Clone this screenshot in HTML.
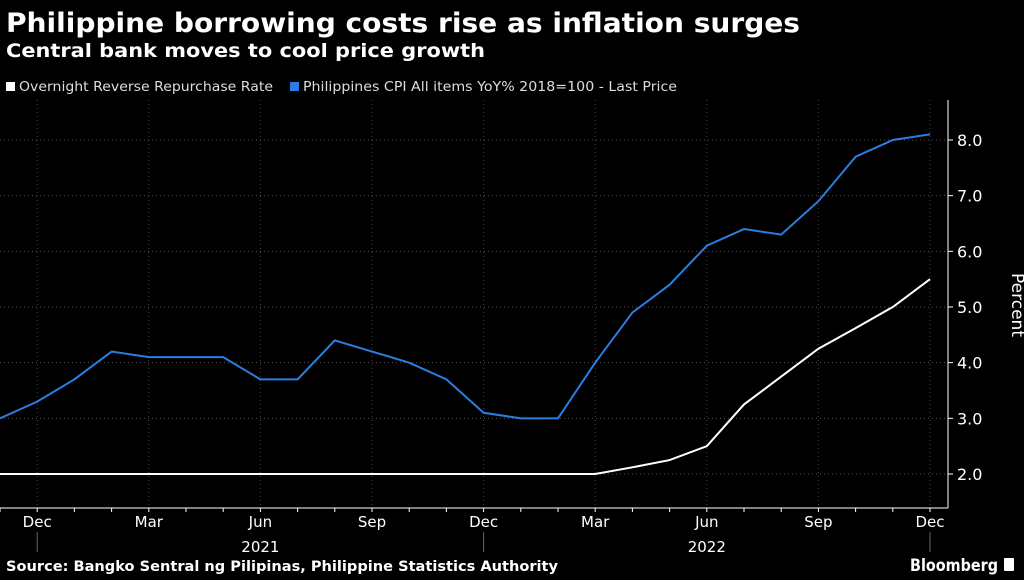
<!DOCTYPE html>
<html><head><meta charset="utf-8"><style>
body{margin:0;background:#000;width:1024px;height:576px;overflow:hidden;font-family:"DejaVu Sans","Liberation Sans",sans-serif;}
</style></head><body>
<svg width="1024" height="576" xmlns="http://www.w3.org/2000/svg">
<text x="6" y="32" fill="#fff" font-size="27" font-weight="bold" textLength="794" lengthAdjust="spacingAndGlyphs">Philippine borrowing costs rise as inflation surges</text>
<text x="6" y="57" fill="#fff" font-size="19" font-weight="bold" textLength="479" lengthAdjust="spacingAndGlyphs">Central bank moves to cool price growth</text>
<g>
<rect x="6" y="82" width="9" height="9" fill="#fff"/>
<text x="19" y="91" fill="#ddd" font-size="13" textLength="254" lengthAdjust="spacingAndGlyphs">Overnight Reverse Repurchase Rate</text>
<rect x="290" y="82" width="9" height="9" fill="#2a7de1"/>
<text x="303" y="91" fill="#ddd" font-size="13" textLength="374" lengthAdjust="spacingAndGlyphs">Philippines CPI All items YoY% 2018=100 - Last Price</text>
</g>
<g id="grid"></g><g id="axes"></g><g id="series"></g>
<text x="1012" y="305" fill="#fff" font-size="17" transform="rotate(90 1012 305)" text-anchor="middle">Percent</text>
<text x="6" y="571" fill="#fff" font-size="14" font-weight="bold" textLength="552" lengthAdjust="spacingAndGlyphs">Source: Bangko Sentral ng Pilipinas, Philippine Statistics Authority</text>
<text x="998" y="571" fill="#fff" font-size="17" font-weight="bold" text-anchor="end" textLength="88" lengthAdjust="spacingAndGlyphs">Bloomberg</text>
<rect x="1004" y="558" width="10" height="13" fill="#fff" rx="1"/>
</svg>
<script>
const months=["Nov","Dec","Jan","Feb","Mar","Apr","May","Jun","Jul","Aug","Sep","Oct","Nov","Dec","Jan","Feb","Mar","Apr","May","Jun","Jul","Aug","Sep","Oct","Nov","Dec"];
const cpi=[3.0,3.3,3.7,4.2,4.1,4.1,4.1,3.7,3.7,4.4,4.2,4.0,3.7,3.1,3.0,3.0,4.0,4.9,5.4,6.1,6.4,6.3,6.9,7.7,8.0,8.1];
const rate=[2,2,2,2,2,2,2,2,2,2,2,2,2,2,2,2,2,2.12,2.25,2.5,3.25,3.75,4.25,4.62,5.0,5.5];
const yTicks=[2,3,4,5,6,7,8];
const xLabels=[[1,"Dec"],[4,"Mar"],[7,"Jun"],[10,"Sep"],[13,"Dec"],[16,"Mar"],[19,"Jun"],[22,"Sep"],[25,"Dec"]];
const years=[[7,"2021"],[19,"2022"]];
const X=i=>i*37.2, Y=v=>474-(v-2)*55.67;
const NS="http://www.w3.org/2000/svg";
function mk(p,t,a){const e=document.createElementNS(NS,t);for(const k in a)e.setAttribute(k,a[k]);document.getElementById(p).appendChild(e);return e;}
yTicks.forEach(v=>{
 const l=mk("grid","line",{x1:0,x2:948,y1:Y(v),y2:Y(v),stroke:"#555","stroke-dasharray":"1 3"});
 
 
 mk("axes","line",{x1:948,x2:953,y1:Y(v),y2:Y(v),stroke:"#fff"});
 const t=mk("axes","text",{x:957,y:Y(v)+6,fill:"#fff","font-size":"16"});t.textContent=v.toFixed(1);
 
 
});
mk("axes","line",{x1:948,x2:948,y1:100,y2:508,stroke:"#fff"});
mk("axes","line",{x1:0,x2:948,y1:508,y2:508,stroke:"#fff"});
months.forEach((m,i)=>mk("axes","line",{x1:X(i),x2:X(i),y1:508,y2:512,stroke:"#fff"}));
xLabels.forEach(([i,s])=>{
 const g=mk("grid","line",{x1:X(i),x2:X(i),y1:100,y2:508,stroke:"#444","stroke-dasharray":"1 3"});
 
 
 const t=mk("axes","text",{x:X(i),y:527,fill:"#fff","font-size":"15","text-anchor":"middle"});t.textContent=s;
 
 
});
[1,13,25].forEach(i=>mk("axes","line",{x1:X(i),x2:X(i),y1:532,y2:552,stroke:"#666"}));
years.forEach(([i,s])=>{const t=mk("axes","text",{x:X(i),y:552,fill:"#fff","font-size":"15","text-anchor":"middle"});t.textContent=s;
 
 });
const p1=mk("series","polyline",{points:cpi.map((v,i)=>X(i)+","+Y(v)).join(" "),fill:"none",stroke:"#2a7de1","stroke-width":"2"});


const p2=mk("series","polyline",{points:rate.map((v,i)=>X(i)+","+Y(v)).join(" "),fill:"none",stroke:"#fff","stroke-width":"2"});


</script>
</body></html>
